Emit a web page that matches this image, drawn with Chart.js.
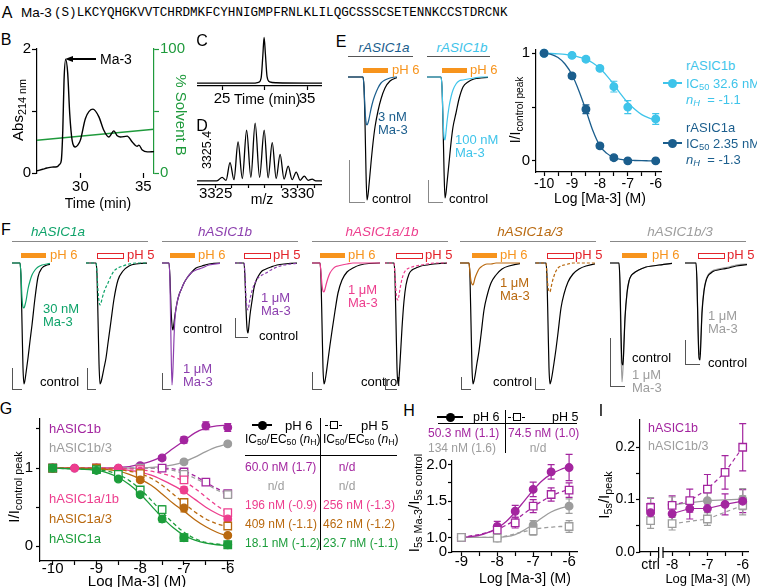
<!DOCTYPE html>
<html>
<head>
<meta charset="utf-8">
<title>Ma-3 figure</title>
<script src="https://cdn.jsdelivr.net/npm/chart.js@4.4.1/dist/chart.umd.min.js"></script>
<style>
  html, body { margin: 0; padding: 0; background: #fff; }
  #fig { position: relative; width: 757px; height: 587px; overflow: hidden;
         font-family: Arial, "Liberation Sans", Helvetica, sans-serif; color: #000; }
  #fig canvas { position: absolute; }
  .t { position: absolute; white-space: nowrap; line-height: 1; }
  .r { position: absolute; box-sizing: border-box; }
  sub { font-size: 72%; vertical-align: -0.28em; line-height: 0; }
</style>
</head>
<body>
<div id="fig"></div>
<script>
// ---------- colours ----------
const GREEN_B = '#1f9a3c', ORANGE = '#f7941d', RED = '#e3242b';
const R1A = '#1b5e8d', R1B = '#3fc4ea';
const F1A = '#0fa36a', F1B = '#8c3fae', PINK = '#ed3e8e', BROWN = '#b9690f', GRAY = '#9d9d9d';
const G1A = '#1c9d3b', G1B = '#a3259f';

// ---------- B: HPLC chromatogram ----------
const bTime = [26.55, 27.0, 27.34, 27.74, 28.14, 28.35, 28.48, 28.6, 28.7, 28.83, 28.99, 29.15, 29.34, 29.6, 29.79,
  30.0, 30.4, 31.0, 31.46, 31.86, 32.26, 32.66, 32.93, 33.19, 33.72, 34.12, 34.5, 34.65, 34.92, 35.32, 35.85];
const bAbs = [0.035, 0.06, 0.08, 0.095, 0.1, 0.14, 0.2, 0.69, 1.5, 1.83, 1.61, 0.96, 0.53, 0.42, 0.45,
  0.53, 0.88, 1.03, 0.91, 0.69, 0.58, 0.68, 0.6, 0.58, 0.595, 0.5, 0.43, 0.45, 0.37, 0.34, 0.345];
const bGradTime = [26.55, 35.85];
const bGradPct = [26.4, 35.3];

// ---------- C: analytical run ----------
const cTime = [22.06, 28.5, 29.3, 29.6, 29.8, 29.95, 30.1, 30.3, 30.6, 31.4, 36.76];
const cAbs = [0.01, 0.01, 0.03, 0.12, 0.6, 1.0, 0.65, 0.15, 0.04, 0.02, 0.01];

// ---------- D: mass spectrum ----------
const dMz = [3323.87, 3325.0, 3325.15, 3325.4, 3325.64, 3325.88, 3326.12, 3326.37, 3326.63, 3326.89, 3327.15,
  3327.41, 3327.68, 3327.96, 3328.2, 3328.45, 3328.69, 3328.93, 3329.17, 3329.42, 3329.66, 3329.91, 3330.15,
  3330.4, 3330.64, 3330.88, 3331.1, 3331.48];
const dInt = [0.02, 0.02, 0.03, 0.08, 0.03, 0.33, 0.04, 0.68, 0.06, 0.88, 0.08, 1.0, 0.08, 0.88, 0.07, 0.67,
  0.06, 0.47, 0.05, 0.27, 0.04, 0.17, 0.03, 0.10, 0.03, 0.05, 0.02, 0.02];

// ---------- current traces (time in px-like units after pH step, current in px-like units) ----------
const traceT = [-100, 0, 1, 2, 3, 4, 5, 6, 8, 10, 12, 15, 18, 22, 27, 33, 40, 60, 100];
const e1aCtrl = [0, 0, -10, -45, -95, -123, -118, -108, -86, -66, -50, -34, -22, -11, -4, -1, 0, 0, 0];
const e1aTox = [0, 0, -10, -32, -45, -48, -46, -42, -32, -24, -18, -11, -6, -3, -1, 0, 0, 0, 0];
const e1bCtrl = [0, 0, -10, -45, -92, -121, -116, -106, -86, -66, -50, -36, -22, -10, -5, -2, -1, 0, 0];
const e1bTox = [0, 0, -10, -40, -60, -63, -55, -45, -30, -20, -13, -7, -4, -3, -2, -1, 0, 0, 0];
const f1a6Ctrl = [0, 0, -15, -60, -105, -121, -117, -110, -95, -78, -62, -35, -14, -5, -2, -1, 0, 0, 0];
const f1a6Tox = [0, 0, -12, -35, -44, -45, -42, -38, -26, -18, -12, -7, -4, -2, -1, 0, 0, 0, 0];
const f1a5Ctrl = [0, 0, -12, -55, -100, -121, -119, -115, -105, -95, -80, -58, -36, -17, -8, -3, -1, 0, 0];
const f1a5Tox = [0, 0, -10, -28, -38, -42, -40, -36, -29, -24, -20, -13, -8, -5, -3, -1, 0, 0, 0];
const f1b6Ctrl = [0, 0, -15, -45, -62, -67, -60, -52, -40, -32, -27, -20, -15, -10, -5, -3, -1, 0, 0];
const f1b6Tox = [0, 0, -20, -80, -122, -105, -75, -55, -40, -32, -27, -20, -15, -10, -7, -5, -2, 0, 0];
const f1b5Ctrl = [0, 0, -15, -45, -65, -70, -62, -52, -38, -25, -18, -12, -8, -6, -4, -2, -1, 0, 0];
const f1b5Tox = [0, 0, -12, -35, -45, -47, -42, -36, -28, -22, -18, -14, -12, -10, -7, -4, -2, 0, 0];
const f1a1b6Ctrl = [0, 0, -15, -60, -105, -121, -118, -112, -97, -82, -68, -48, -30, -17, -9, -5, -2, 0, 0];
const f1a1b6Tox = [0, 0, -10, -22, -28, -29, -26, -22, -15, -10, -7, -4, -3, -2, -1, 0, 0, 0, 0];
const f1a1b5Ctrl = [0, 0, -15, -60, -105, -121, -115, -100, -65, -38, -22, -11, -7, -5, -3, -2, -1, 0, 0];
const f1a1b5Tox = [0, 0, -12, -28, -36, -37, -32, -26, -16, -10, -7, -5, -4, -3, -2, -1, 0, 0, 0];
const f1a36Ctrl = [0, 0, -15, -60, -105, -121, -118, -113, -100, -88, -72, -47, -33, -20, -12, -6, -3, 0, 0];
const f1a36Tox = [0, 0, -10, -18, -21, -22, -19, -15, -10, -6, -4, -2, -1, -1, 0, 0, 0, 0, 0];
const f1a35Ctrl = [0, 0, -15, -60, -105, -121, -118, -113, -100, -86, -70, -45, -31, -19, -11, -6, -3, 0, 0];
const f1a35Tox = [0, 0, -12, -24, -28, -29, -25, -20, -13, -8, -5, -3, -2, -1, 0, 0, 0, 0, 0];
const f1b36Ctrl = [0, 0, -20, -70, -100, -102, -80, -55, -30, -18, -13, -10, -8, -6, -4, -3, -2, 0, 0];
const f1b36Tox = [0, 0, -25, -85, -119, -105, -78, -55, -30, -18, -13, -10, -8, -6, -4, -3, -2, 0, 0];
const f1b35Ctrl = [0, 0, -20, -65, -95, -97, -75, -50, -28, -18, -13, -10, -8, -7, -6, -5, -3, -1, 0];
const f1b35Tox = [0, 0, -20, -62, -90, -92, -72, -48, -27, -17, -12, -9, -7, -6, -5, -4, -2, -1, 0];

// ---------- E: rat ASIC1 concentration-response ----------
const eX = [-10, -9, -8.5, -8, -7.5, -7, -6];
const e1bResp = [1.0, 0.98, 0.945, 0.86, 0.69, 0.50, 0.39];
const e1bErr = [0.01, 0.015, 0.02, 0.02, 0.05, 0.06, 0.05];
const e1aResp = [1.0, 0.79, 0.48, 0.14, 0.03, 0.0, 0.0];
const e1aErr = [0.01, 0.02, 0.04, 0.02, 0.02, 0.01, 0.01];
const eFitX = [-10, -9.75, -9.5, -9.25, -9, -8.75, -8.5, -8.25, -8, -7.75, -7.5, -7.25, -7, -6.75, -6.5, -6.25, -6];
const e1aFit = [1.0, 0.99, 0.96, 0.9, 0.8, 0.65, 0.47, 0.28, 0.14, 0.07, 0.03, 0.015, 0.007, 0.004, 0.002, 0.001, 0.0];
const e1bFit = [1.0, 0.998, 0.995, 0.99, 0.98, 0.965, 0.945, 0.91, 0.86, 0.79, 0.71, 0.62, 0.54, 0.48, 0.43, 0.40, 0.38];

// ---------- G: human ASIC1 concentration-response ----------
const gX = [-10, -9.5, -9, -8.5, -8, -7.5, -7, -6.5, -6];
const g1bPH6 = [1.0, 1.0, 1.0, 1.0, 1.03, 1.13, 1.36, 1.54, 1.52];
const g1bPH6Err = [0.02, 0.02, 0.02, 0.02, 0.03, 0.03, 0.04, 0.05, 0.05];
const g1b3PH6 = [1.0, null, 1.0, null, 1.0, null, 1.08, null, 1.31];
const g1b3PH6Err = [0.02, 0, 0.02, 0, 0.02, 0, 0.03, 0, 0.03];
const g1bPH5 = [1.0, null, 1.0, null, 1.0, 1.0, 0.95, 0.82, 0.675];
const g1bPH5Err = [0.02, 0, 0.02, 0, 0.02, 0.02, 0.04, 0.03, 0.03];
const g1b3PH5 = [1.0, null, 1.0, null, 1.0, null, 0.92, null, 0.66];
const g1b3PH5Err = [0.02, 0, 0.02, 0, 0.02, 0, 0.03, 0, 0.03];
const g1a1bPH6 = [1.0, 1.0, 1.0, 1.0, 0.96, null, 0.72, null, 0.35];
const g1a1bPH6Err = [0.02, 0.02, 0.02, 0.02, 0.03, 0, 0.04, 0, 0.04];
const g1a1bPH5 = [1.0, null, 1.0, null, 0.98, null, 0.85, null, 0.43];
const g1a1bPH5Err = [0.02, 0, 0.02, 0, 0.03, 0, 0.04, 0, 0.04];
const g1a3PH6 = [1.0, null, 1.0, null, 0.85, null, 0.49, null, 0.14];
const g1a3PH6Err = [0.02, 0, 0.02, 0, 0.03, 0, 0.05, 0, 0.02];
const g1a3PH5 = [1.0, null, 1.0, null, 0.93, null, 0.56, null, 0.26];
const g1a3PH5Err = [0.02, 0, 0.02, 0, 0.03, 0, 0.04, 0, 0.03];
const g1aPH6 = [1.0, null, 0.97, 0.86, 0.66, 0.35, 0.11, null, 0.02];
const g1aPH6Err = [0.02, 0, 0.02, 0.03, 0.03, 0.04, 0.02, 0, 0.02];
const g1aPH5 = [1.0, null, 0.98, 0.92, 0.72, 0.47, 0.11, null, 0.02];
const g1aPH5Err = [0.02, 0, 0.02, 0.03, 0.03, 0.05, 0.02, 0, 0.02];
const gFitX = [-10, -9.5, -9, -8.75, -8.5, -8.25, -8, -7.75, -7.5, -7.25, -7, -6.75, -6.5, -6.25, -6];
const g1bFit6 = [1.0, 1.0, 1.0, 1.0, 1.01, 1.02, 1.05, 1.09, 1.15, 1.25, 1.35, 1.45, 1.51, 1.54, 1.55];
const g1b3Fit6 = [1.0, 1.0, 1.0, 1.0, 1.0, 1.0, 1.0, 1.01, 1.02, 1.04, 1.08, 1.14, 1.21, 1.27, 1.31];
const g1bFit5 = [1.0, 1.0, 1.0, 1.0, 1.0, 1.0, 1.0, 1.0, 1.0, 0.99, 0.96, 0.9, 0.82, 0.74, 0.68];
const g1b3Fit5 = [1.0, 1.0, 1.0, 1.0, 1.0, 1.0, 1.0, 1.0, 0.99, 0.97, 0.93, 0.87, 0.8, 0.72, 0.66];
const g1a1bFit6 = [1.0, 1.0, 1.0, 1.0, 0.99, 0.97, 0.95, 0.91, 0.85, 0.78, 0.7, 0.6, 0.5, 0.42, 0.36];
const g1a1bFit5 = [1.0, 1.0, 1.0, 1.0, 1.0, 0.99, 0.98, 0.96, 0.93, 0.89, 0.83, 0.74, 0.63, 0.52, 0.43];
const g1a3Fit6 = [1.0, 1.0, 0.99, 0.98, 0.96, 0.92, 0.86, 0.78, 0.67, 0.55, 0.45, 0.34, 0.25, 0.18, 0.13];
const g1a3Fit5 = [1.0, 1.0, 1.0, 0.99, 0.98, 0.96, 0.93, 0.87, 0.78, 0.67, 0.55, 0.44, 0.35, 0.29, 0.25];
const g1aFit6 = [1.0, 0.99, 0.97, 0.94, 0.88, 0.79, 0.67, 0.52, 0.37, 0.24, 0.14, 0.08, 0.04, 0.02, 0.01];
const g1aFit5 = [1.0, 0.99, 0.98, 0.96, 0.92, 0.84, 0.73, 0.59, 0.44, 0.3, 0.18, 0.1, 0.05, 0.03, 0.02];

// ---------- H: sustained current ----------
const hX = [-9, -8, -7.5, -7, -6.5, -6];
const h1bPH6 = [1.0, 1.15, 1.36, 1.66, 1.9, 1.96];
const h1bPH6Err = [0.02, 0.07, 0.08, 0.1, 0.1, 0.18];
const h1bPH5 = [1.0, 1.10, 1.2, 1.43, 1.59, 1.65];
const h1bPH5Err = [0.02, 0.06, 0.07, 0.09, 0.09, 0.1];
const h1b3PH6 = [1.0, 0.99, null, 1.17, null, 1.43];
const h1b3PH6Err = [0.02, 0.02, 0, 0.06, 0, 0.1];
const h1b3PH5 = [1.0, 0.99, null, 1.09, null, 1.15];
const h1b3PH5Err = [0.02, 0.03, 0, 0.06, 0, 0.08];
const hFitX = [-9, -8.75, -8.5, -8.25, -8, -7.75, -7.5, -7.25, -7, -6.75, -6.5, -6.25, -6];
const h1bFit6 = [1.0, 1.01, 1.03, 1.07, 1.13, 1.22, 1.35, 1.5, 1.65, 1.78, 1.87, 1.93, 1.97];
const h1bFit5 = [1.0, 1.02, 1.04, 1.07, 1.11, 1.17, 1.24, 1.33, 1.42, 1.5, 1.57, 1.62, 1.66];
const h1b3Fit6 = [1.0, 1.0, 1.0, 1.0, 1.0, 1.01, 1.04, 1.1, 1.18, 1.27, 1.35, 1.4, 1.43];
const h1b3Fit5 = [1.0, 1.0, 1.0, 1.0, 1.0, 1.02, 1.05, 1.08, 1.11, 1.13, 1.14, 1.15, 1.15];

// ---------- I: I5s / Ipeak ----------
const iX = [-8.61, -8, -7.5, -7, -6.5, -6];   // first position is "ctrl"
const i1bPH6 = [0.075, 0.073, 0.083, 0.083, 0.091, 0.097];
const i1bPH6Err = [0.018, 0.015, 0.02, 0.018, 0.02, 0.022];
const i1bPH5 = [0.085, 0.089, 0.098, 0.12, 0.152, 0.2];
const i1bPH5Err = [0.018, 0.018, 0.022, 0.028, 0.032, 0.045];
const i1b3PH6 = [0.082, 0.09, null, 0.098, null, 0.101];
const i1b3PH6Err = [0.022, 0.015, 0, 0.015, 0, 0.02];
const i1b3PH5 = [0.06, 0.054, null, 0.063, null, 0.089];
const i1b3PH5Err = [0.015, 0.012, 0, 0.012, 0, 0.018];

// ================= helpers =================
Chart.defaults.font.family = 'Arial, "Liberation Sans", Helvetica, sans-serif';
Chart.defaults.color = '#000';
const fig = document.getElementById('fig');

function addCanvas(left, top, w, h) {
  const c = document.createElement('canvas');
  c.width = w; c.height = h;
  c.style.left = left + 'px'; c.style.top = top + 'px';
  c.style.width = w + 'px'; c.style.height = h + 'px';
  fig.appendChild(c);
  return c;
}
function txt(x, y, html, o) {
  o = o || {};
  const d = document.createElement('div');
  d.className = 't';
  d.innerHTML = html;
  d.style.left = x + 'px'; d.style.top = y + 'px';
  d.style.fontSize = (o.size || 13) + 'px';
  if (o.color) d.style.color = o.color;
  if (o.italic) d.style.fontStyle = 'italic';
  if (o.lh) d.style.lineHeight = o.lh + 'px';
  if (o.mono) d.style.fontFamily = '"Liberation Mono", "Courier New", monospace';
  let tr = o.center ? 'translate(-50%,-50%)' : 'translateY(-50%)';
  if (o.rot) tr = 'translate(-50%,-50%) rotate(' + o.rot + 'deg)';
  d.style.transform = tr;
  fig.appendChild(d);
}
function rect(x, y, w, h, css) {
  const d = document.createElement('div');
  d.className = 'r';
  d.style.cssText = 'left:' + x + 'px;top:' + y + 'px;width:' + w + 'px;height:' + h + 'px;' + (css || '');
  fig.appendChild(d);
}
function pts(xs, ys) { return xs.map((x, i) => ({ x: x, y: ys[i] })); }

function opts(scales, padding) {
  return {
    responsive: false, animation: false, devicePixelRatio: 1, events: [],
    layout: { padding: padding || 0, autoPadding: false },
    plugins: { legend: { display: false }, tooltip: { enabled: false } },
    scales: scales
  };
}
function axis(o) {
  const col = o.color || '#000';
  return {
    type: 'linear', position: o.pos || 'bottom', min: o.min, max: o.max,
    afterBuildTicks: s => { s.ticks = o.ticks.map(v => ({ value: v })); },
    afterFit: s => { if (s.isHorizontal()) s.height = o.size; else s.width = o.size; },
    border: { display: o.border !== false, color: col, width: 1.2 },
    grid: { drawOnChartArea: false, drawTicks: true, tickLength: o.tick || 5, tickWidth: 1.2, tickColor: col, color: col },
    ticks: { color: col, font: { size: o.font || 14, lineHeight: 1 }, padding: o.pad == null ? 2 : o.pad,
      maxRotation: 0, autoSkip: false, callback: (v, i) => o.labels[i] }
  };
}
function ptsDs(xs, ys, errs, color, open) {
  return { data: pts(xs, ys), errors: errs, showLine: false, borderColor: color,
    pointStyle: open ? 'rect' : 'circle', pointRadius: open ? 5.3 : 3.8,
    pointBackgroundColor: open ? '#fff' : color, pointBorderColor: color, pointBorderWidth: 1.3, clip: false };
}
function fitDs(xs, ys, color, dashed) {
  return { data: pts(xs, ys), borderColor: color, borderWidth: 1.3, borderDash: dashed ? [4, 3] : [],
    pointRadius: 0, cubicInterpolationMode: 'monotone' };
}

// error bars drawn under the markers
const errorBars = {
  id: 'errorBars',
  beforeDatasetsDraw(chart) {
    const ctx = chart.ctx;
    chart.data.datasets.forEach((ds, i) => {
      if (!ds.errors) return;
      const meta = chart.getDatasetMeta(i);
      const ys = chart.scales[meta.yAxisID];
      ctx.save();
      ctx.strokeStyle = ds.borderColor; ctx.lineWidth = 1.2;
      meta.data.forEach((el, j) => {
        const v = ds.data[j].y, e = ds.errors[j];
        if (v == null || !e) return;
        const y1 = ys.getPixelForValue(v + e), y2 = ys.getPixelForValue(v - e);
        const x = el.x, cap = 3.5;
        ctx.beginPath();
        ctx.moveTo(x, y1); ctx.lineTo(x, y2);
        ctx.moveTo(x - cap, y1); ctx.lineTo(x + cap, y1);
        ctx.moveTo(x - cap, y2); ctx.lineTo(x + cap, y2);
        ctx.stroke();
      });
      ctx.restore();
    });
  }
};

// current traces: one small chart per recording
function traceChart(x0, x1, on, top, sets) {
  const cv = addCanvas(x0, top, x1 - x0, 135);
  new Chart(cv, {
    type: 'line',
    data: { datasets: sets.map(s => ({ data: pts(traceT, s.y), borderColor: s.color, borderWidth: 1.2,
      borderDash: s.dash ? [3, 2] : [], pointRadius: 0, cubicInterpolationMode: 'monotone' })) },
    options: opts({ x: { type: 'linear', display: false, min: x0 - on, max: x1 - on },
                    y: { type: 'linear', display: false, min: -130, max: 5 } })
  });
}

// ================= B =================
new Chart(addCanvas(14, 40, 174, 155), {
  type: 'line',
  data: { datasets: [
    { data: pts(bTime, bAbs), yAxisID: 'y', borderColor: '#000', borderWidth: 1.4, pointRadius: 0, cubicInterpolationMode: 'monotone' },
    { data: pts(bGradTime, bGradPct), yAxisID: 'y2', borderColor: GREEN_B, borderWidth: 1.3, pointRadius: 0 }
  ] },
  options: opts({
    x: axis({ min: 26.55, max: 35.85, ticks: [30, 35], labels: ['30', '35'], size: 22, font: 15, pad: 1.5, border: false }),
    y: axis({ pos: 'left', min: 0, max: 2, ticks: [0, 1, 2], labels: ['0', '', '2'], size: 23, font: 15, pad: 1 }),
    y2: axis({ pos: 'right', min: 0, max: 100, ticks: [0, 50, 100], labels: ['0', '', '100'], size: 34, font: 15, pad: 1, color: GREEN_B })
  }, { top: 9 })
});

// ================= C =================
new Chart(addCanvas(197, 34, 125, 72), {
  type: 'line',
  data: { datasets: [{ data: pts(cTime, cAbs), borderColor: '#000', borderWidth: 1.3, pointRadius: 0, cubicInterpolationMode: 'monotone' }] },
  options: opts({
    x: axis({ min: 22.06, max: 36.76, ticks: [25, 30, 35], labels: ['25', '', '35'], size: 20, font: 15, tick: 4, pad: 1.5 }),
    y: { type: 'linear', display: false, min: -0.05, max: 1.05 }
  }, { top: 1 })
});

// ================= D =================
new Chart(addCanvas(197, 120, 125, 85), {
  type: 'line',
  data: { datasets: [{ data: pts(dMz, dInt), borderColor: '#000', borderWidth: 1.3, pointRadius: 0, cubicInterpolationMode: 'monotone' }] },
  options: opts({
    x: axis({ min: 3323.87, max: 3331.48, ticks: [3325, 3326, 3327, 3328, 3329, 3330, 3331],
      labels: ['3325', '', '', '', '', '3330', ''], size: 20, font: 15, tick: 3, pad: -2 }),
    y: { type: 'linear', display: false, min: -0.05, max: 1.02 }
  }, { top: 2 })
});

// ================= E traces =================
traceChart(348, 397, 363, 72, [{ y: e1aTox, color: R1A }, { y: e1aCtrl, color: '#000' }]);
traceChart(427, 488, 441, 72, [{ y: e1bTox, color: R1B }, { y: e1bCtrl, color: '#000' }]);

// ================= E concentration-response =================
new Chart(addCanvas(516, 40, 153, 152), {
  type: 'line',
  data: { datasets: [
    ptsDs(eX, e1aResp, e1aErr, R1A, false),
    ptsDs(eX, e1bResp, e1bErr, R1B, false),
    fitDs(eFitX, e1aFit, R1A, false),
    fitDs(eFitX, e1bFit, R1B, false)
  ] },
  options: opts({
    x: axis({ min: -10.29, max: -5.81, ticks: [-10, -9.5, -9, -8.5, -8, -7.5, -7, -6.5, -6],
      labels: ['-10', '', '-9', '', '-8', '', '-7', '', '-6'], size: 20, font: 14, tick: 4, pad: 1 }),
    y: axis({ pos: 'left', min: -0.103, max: 1.035, ticks: [0, 0.5, 1], labels: ['0', '', '1'], size: 20, font: 15, tick: 4, pad: 2 })
  }, { top: 7, right: 8 }),
  plugins: [errorBars]
});

// ================= F traces =================
const fPanels = [
  { x0: 12, x1: 50, on: 20, sets: [{ y: f1a6Tox, color: F1A }, { y: f1a6Ctrl, color: '#000' }] },
  { x0: 86, x1: 147, on: 96, sets: [{ y: f1a5Tox, color: F1A, dash: true }, { y: f1a5Ctrl, color: '#000' }] },
  { x0: 162, x1: 220, on: 169, sets: [{ y: f1b6Tox, color: F1B }, { y: f1b6Ctrl, color: '#000' }] },
  { x0: 235, x1: 297, on: 244, sets: [{ y: f1b5Tox, color: F1B, dash: true }, { y: f1b5Ctrl, color: '#000' }] },
  { x0: 312, x1: 380, on: 320, sets: [{ y: f1a1b6Tox, color: PINK }, { y: f1a1b6Ctrl, color: '#000' }] },
  { x0: 385, x1: 447, on: 394, sets: [{ y: f1a1b5Tox, color: PINK, dash: true }, { y: f1a1b5Ctrl, color: '#000' }] },
  { x0: 460, x1: 520, on: 469, sets: [{ y: f1a36Tox, color: BROWN }, { y: f1a36Ctrl, color: '#000' }] },
  { x0: 535, x1: 595, on: 546, sets: [{ y: f1a35Tox, color: BROWN, dash: true }, { y: f1a35Ctrl, color: '#000' }] },
  { x0: 610, x1: 672, on: 619, sets: [{ y: f1b36Ctrl, color: '#000' }, { y: f1b36Tox, color: GRAY }] },
  { x0: 685, x1: 747, on: 696, sets: [{ y: f1b35Ctrl, color: '#000' }, { y: f1b35Tox, color: GRAY }] }
];
fPanels.forEach(p => traceChart(p.x0, p.x1, p.on, 258, p.sets));

// ================= G =================
new Chart(addCanvas(20, 408, 219, 175), {
  type: 'line',
  data: { datasets: [
    ptsDs(gX, g1aPH6, g1aPH6Err, G1A, false),
    ptsDs(gX, g1aPH5, g1aPH5Err, G1A, true),
    ptsDs(gX, g1a3PH6, g1a3PH6Err, BROWN, false),
    ptsDs(gX, g1a3PH5, g1a3PH5Err, BROWN, true),
    ptsDs(gX, g1a1bPH6, g1a1bPH6Err, PINK, false),
    ptsDs(gX, g1a1bPH5, g1a1bPH5Err, PINK, true),
    ptsDs(gX, g1b3PH6, g1b3PH6Err, GRAY, false),
    ptsDs(gX, g1b3PH5, g1b3PH5Err, GRAY, true),
    ptsDs(gX, g1bPH6, g1bPH6Err, G1B, false),
    ptsDs(gX, g1bPH5, g1bPH5Err, G1B, true),
    fitDs(gFitX, g1aFit6, G1A, false), fitDs(gFitX, g1aFit5, G1A, true),
    fitDs(gFitX, g1a3Fit6, BROWN, false), fitDs(gFitX, g1a3Fit5, BROWN, true),
    fitDs(gFitX, g1a1bFit6, PINK, false), fitDs(gFitX, g1a1bFit5, PINK, true),
    fitDs(gFitX, g1b3Fit6, GRAY, false), fitDs(gFitX, g1b3Fit5, GRAY, true),
    fitDs(gFitX, g1bFit6, G1B, false), fitDs(gFitX, g1bFit5, G1B, true)
  ] },
  options: opts({
    x: axis({ min: -10.29, max: -5.88, ticks: [-10, -9.5, -9, -8.5, -8, -7.5, -7, -6.5, -6],
      labels: ['-10', '', '-9', '', '-8', '', '-7', '', '-6'], size: 22, font: 15, tick: 4, pad: -4 }),
    y: axis({ pos: 'left', min: -0.1875, max: 1.634, ticks: [0, 0.5, 1, 1.5], labels: ['0', '', '1', ''], size: 20, font: 15, tick: 4, pad: 3 })
  }, { top: 7, right: 6 }),
  plugins: [errorBars]
});

// ================= H =================
new Chart(addCanvas(421, 450, 162, 122), {
  type: 'line',
  data: { datasets: [
    ptsDs(hX, h1b3PH5, h1b3PH5Err, GRAY, true),
    ptsDs(hX, h1b3PH6, h1b3PH6Err, GRAY, false),
    ptsDs(hX, h1bPH5, h1bPH5Err, G1B, true),
    ptsDs(hX, h1bPH6, h1bPH6Err, G1B, false),
    fitDs(hFitX, h1bFit6, G1B, false), fitDs(hFitX, h1bFit5, G1B, true),
    fitDs(hFitX, h1b3Fit6, GRAY, false), fitDs(hFitX, h1b3Fit5, GRAY, true)
  ] },
  options: opts({
    x: axis({ min: -9.26, max: -5.78, ticks: [-9, -8.5, -8, -7.5, -7, -6.5, -6],
      labels: ['-9', '', '-8', '', '-7', '', '-6'], size: 20, font: 15, tick: 4, pad: -2 }),
    y: axis({ pos: 'left', min: 0.8, max: 2.05, ticks: [0.8, 1, 1.25, 1.5, 1.75, 2],
      labels: ['0', '1.0', '', '1.5', '', '2.0'], size: 31, font: 15, tick: 4, pad: 1 })
  }, { top: 11, right: 6 }),
  plugins: [errorBars]
});

// ================= I =================
const axisBreak = {
  id: 'axisBreak',
  afterDraw(chart) {
    const ctx = chart.ctx, x = chart.scales.x.getPixelForValue(-8.32), y = chart.chartArea.bottom;
    ctx.save();
    ctx.fillStyle = '#fff'; ctx.fillRect(x - 2, y - 2, 4, 4);
    ctx.strokeStyle = '#000'; ctx.lineWidth = 1.2;
    ctx.beginPath();
    ctx.moveTo(x - 2.2, y - 5); ctx.lineTo(x - 2.2, y + 6);
    ctx.moveTo(x + 2.2, y - 5); ctx.lineTo(x + 2.2, y + 6);
    ctx.stroke();
    ctx.restore();
  }
};
function iLine(ys, errs, color, open) {
  const ds = ptsDs(iX, ys, errs, color, open);
  ds.showLine = true; ds.spanGaps = true; ds.borderWidth = 1.2;
  ds.borderDash = open ? [4, 3] : [];
  ds.segment = { borderColor: c => c.p0DataIndex === 0 ? 'rgba(0,0,0,0)' : color };
  return ds;
}
new Chart(addCanvas(600, 412, 154, 160), {
  type: 'line',
  data: { datasets: [
    iLine(i1bPH6, i1bPH6Err, G1B, false),
    iLine(i1bPH5, i1bPH5Err, G1B, true),
    iLine(i1b3PH6, i1b3PH6Err, GRAY, false),
    iLine(i1b3PH5, i1b3PH5Err, GRAY, true)
  ] },
  options: opts({
    x: axis({ min: -8.91, max: -5.85, ticks: [-8.61, -8, -7.5, -7, -6.5, -6],
      labels: ['ctrl', '-8', '', '-7', '', '-6'], size: 20, font: 14, tick: 4, pad: 2 }),
    y: axis({ pos: 'left', min: 0, max: 0.252, ticks: [0, 0.05, 0.1, 0.15, 0.2],
      labels: ['0.0', '', '0.1', '', '0.2'], size: 40, font: 14, tick: 4, pad: 1 })
  }, { top: 6, right: 6 }),
  plugins: [errorBars, axisBreak]
});

// ================= text and decorations =================
// panel letters
[['A', 7, 13], ['B', 6, 40], ['C', 202, 41], ['D', 202, 126], ['E', 341, 42],
 ['F', 6, 230], ['G', 6, 409], ['H', 409, 411], ['I', 601, 411]].forEach(l => txt(l[1], l[2], l[0], { size: 16, center: true }));

// A
txt(21, 13, 'Ma-3', { size: 13.5 });
txt(54, 13, '(S)LKCYQHGKVVTCHRDMKFCYHNIGMPFRNLKLILQGCSSSCSETENNKCCSTDRCNK', { size: 12.6, mono: true });

// B
txt(100, 59, 'Ma-3', { size: 14 });
rect(72, 58.3, 24, 1.4, 'background:#000');
rect(65, 55.5, 8, 7, 'width:0;height:0;border-top:3.5px solid transparent;border-bottom:3.5px solid transparent;border-right:8px solid #000');
txt(98, 203, 'Time (min)', { size: 14, center: true });
txt(17, 110, 'Abs<sub>214 nm</sub>', { size: 15, rot: -90 });
txt(181, 115, '% Solvent B', { size: 15, rot: 90, color: GREEN_B });

// C, D
txt(234, 99, 'Time (min)', { size: 14 });
txt(207, 150, '3325.4', { size: 12.5, rot: -90 });
txt(262, 199, 'm/z', { size: 14, center: true });

// E traces
txt(384, 48, 'rASIC1a', { size: 13.5, italic: true, center: true, color: R1A });
rect(348, 56, 65, 1, 'background:#555');
txt(462, 48, 'rASIC1b', { size: 13.5, italic: true, center: true, color: R1B });
rect(427, 56, 63, 1, 'background:#555');
rect(363, 67.5, 25, 5, 'background:' + ORANGE);
rect(442, 67.5, 25, 5, 'background:' + ORANGE);
txt(392, 69, 'pH 6', { size: 13, color: ORANGE });
txt(470, 69, 'pH 6', { size: 13, color: ORANGE });
txt(378, 123, '3 nM<br>Ma-3', { size: 13, lh: 12.5, color: R1A });
txt(455, 146, '100 nM<br>Ma-3', { size: 13, lh: 12.5, color: R1B });
txt(372, 198, 'control', { size: 13 });
txt(449, 198, 'control', { size: 13 });
rect(349, 160, 1.3, 43, 'background:#888');
rect(349, 202, 16, 1.3, 'background:#888');
rect(428, 180, 1.3, 23, 'background:#888');
rect(428, 202, 15, 1.3, 'background:#888');

// E right
txt(515, 110, 'I/I<sub>control peak</sub>', { size: 14, rot: -90 });
txt(600, 198, 'Log [Ma-3] (M)', { size: 14, center: true });
function legendMark(x0, x1, y, color, open, dashed) {
  if (dashed) rect(x0, y, x1 - x0, 0, 'border-top:1.3px dashed ' + color);
  else rect(x0, y - 0.7, x1 - x0, 1.4, 'background:' + color);
  const cx = (x0 + x1) / 2;
  if (open) rect(cx - 4, y - 4, 8, 8, 'background:#fff;border:1.3px solid ' + color);
  else rect(cx - 4.5, y - 4.5, 9, 9, 'background:' + color + ';border-radius:50%');
}
txt(686, 65, 'rASIC1b', { size: 13, color: R1B });
legendMark(663, 682, 83, R1B);
txt(686, 83, 'IC<sub>50</sub> 32.6 nM', { size: 13, color: R1B });
txt(686, 99, '<i>n<sub>H</sub></i> &nbsp;= -1.1', { size: 13, color: R1B });
txt(686, 127, 'rASIC1a', { size: 13, color: R1A });
legendMark(663, 682, 143, R1A);
txt(686, 143, 'IC<sub>50</sub> 2.35 nM', { size: 13, color: R1A });
txt(686, 159, '<i>n<sub>H</sub></i> &nbsp;= -1.3', { size: 13, color: R1A });

// F headers, stimulus bars, labels and scale bars
[['hASIC1a', 58, 12, F1A], ['hASIC1b', 225, 162, F1B], ['hASIC1a/1b', 382, 312, PINK],
 ['hASIC1a/3', 530, 460, BROWN], ['hASIC1b/3', 680, 610, GRAY]].forEach(h => {
  txt(h[1], 232, h[0], { size: 13.5, italic: true, center: true, color: h[3] });
  rect(h[2], 241, 136, 1, 'background:#888');
});
[21, 170, 320, 472, 622].forEach(x => rect(x, 253, 25, 5, 'background:' + ORANGE));
[50, 198, 348, 500, 652].forEach(x => txt(x, 254, 'pH 6', { size: 13, color: ORANGE }));
[97, 244, 396, 547, 698].forEach(x => rect(x, 253, 27, 5.5, 'background:#fff;border:1.4px solid ' + RED));
[127, 273, 425, 575, 727].forEach(x => txt(x, 254, 'pH 5', { size: 13, color: RED }));
txt(43, 315, '30 nM<br>Ma-3', { size: 13, lh: 12.5, color: F1A });
txt(40, 381, 'control');
txt(183, 328, 'control');
txt(183, 375, '1 μM<br>Ma-3', { lh: 12.5, color: F1B });
txt(261, 304, '1 μM<br>Ma-3', { lh: 12.5, color: F1B });
txt(259, 335, 'control');
txt(348, 296, '1 μM<br>Ma-3', { lh: 12.5, color: PINK });
txt(361, 381, 'control');
txt(500, 289, '1 μM<br>Ma-3', { lh: 12.5, color: BROWN });
txt(493, 381, 'control');
txt(632, 357, 'control');
txt(632, 381, '1 μM<br>Ma-3', { lh: 12.5, color: GRAY });
txt(708, 322, '1 μM<br>Ma-3', { lh: 12.5, color: GRAY });
txt(708, 362, 'control');
[[12, 368, 390, 22], [87, 368, 390, 96], [162, 373, 390, 171], [235, 318, 338, 248], [312, 372, 390, 322],
 [385, 378, 390, 397], [461, 377, 390, 471], [535, 378, 390, 545], [610, 338, 387, 625], [685, 340, 365, 700]].forEach(s => {
  rect(s[0], s[1], 1.3, s[2] - s[1], 'background:#555');
  rect(s[0], s[2] - 1.3, s[3] - s[0], 1.3, 'background:#555');
});

// G
txt(13, 487, 'I/I<sub>control peak</sub>', { size: 15, rot: -90 });
txt(137, 580, 'Log [Ma-3] (M)', { size: 15, center: true });
txt(49, 428, 'hASIC1b', { size: 13, color: G1B });
txt(49, 447, 'hASIC1b/3', { size: 13, color: GRAY });
txt(49, 498, 'hASIC1a/1b', { size: 13, color: PINK });
txt(49, 518, 'hASIC1a/3', { size: 13, color: BROWN });
txt(49, 538, 'hASIC1a', { size: 13, color: G1A });
legendMark(252, 272, 425, '#000');
txt(285, 425, 'pH 6', { size: 13 });
legendMark(325, 342, 425, '#000', true, true);
txt(361, 425, 'pH 5', { size: 13 });
txt(245, 439, 'IC<sub>50</sub>/EC<sub>50</sub> (<i>n</i><sub>H</sub>)', { size: 12 });
txt(323, 439, 'IC<sub>50</sub>/EC<sub>50</sub> (<i>n</i><sub>H</sub>)', { size: 12 });
rect(320, 418, 1, 132, 'background:#000');
rect(245, 455, 152, 1, 'background:#000');
txt(245, 467, '60.0 nM (1.7)', { size: 12, color: G1B });
txt(347, 467, 'n/d', { size: 12, color: G1B, center: true });
txt(276, 486, 'n/d', { size: 12, color: GRAY, center: true });
txt(347, 486, 'n/d', { size: 12, color: GRAY, center: true });
txt(245, 505, '196 nM (-0.9)', { size: 12, color: PINK });
txt(323, 505, '256 nM (-1.3)', { size: 12, color: PINK });
txt(245, 524, '409 nM (-1.1)', { size: 12, color: BROWN });
txt(323, 524, '462 nM (-1.2)', { size: 12, color: BROWN });
txt(245, 543, '18.1 nM (-1.2)', { size: 12, color: G1A });
txt(323, 543, '23.7 nM (-1.1)', { size: 12, color: G1A });

// H
legendMark(437, 463, 417, '#000');
txt(473, 417, 'pH 6', { size: 12.5 });
rect(505, 410, 1, 43, 'background:#000');
legendMark(508, 525, 417, '#000', true, true);
txt(552, 417, 'pH 5', { size: 12.5 });
rect(438, 423, 139, 1, 'background:#000');
txt(428, 433, '50.3 nM (1.1)', { size: 12, color: G1B });
txt(508, 433, '74.5 nM (1.0)', { size: 12, color: G1B });
txt(428, 448, '134 nM (1.6)', { size: 12, color: GRAY });
txt(538, 448, 'n/d', { size: 12, color: GRAY, center: true });
txt(413, 503, 'I<sub>5s Ma-3</sub>/I<sub>5s control</sub>', { size: 15, rot: -90 });
txt(525, 578, 'Log [Ma-3] (M)', { size: 14, center: true });

// I
txt(603, 495, 'I<sub>5s</sub>/I<sub>peak</sub>', { size: 15, rot: -90 });
txt(708, 578, 'Log [Ma-3] (M)', { size: 13, center: true });
txt(648, 428, 'hASIC1b', { size: 12.5, color: G1B });
txt(648, 446, 'hASIC1b/3', { size: 12.5, color: GRAY });
</script>
</body>
</html>
